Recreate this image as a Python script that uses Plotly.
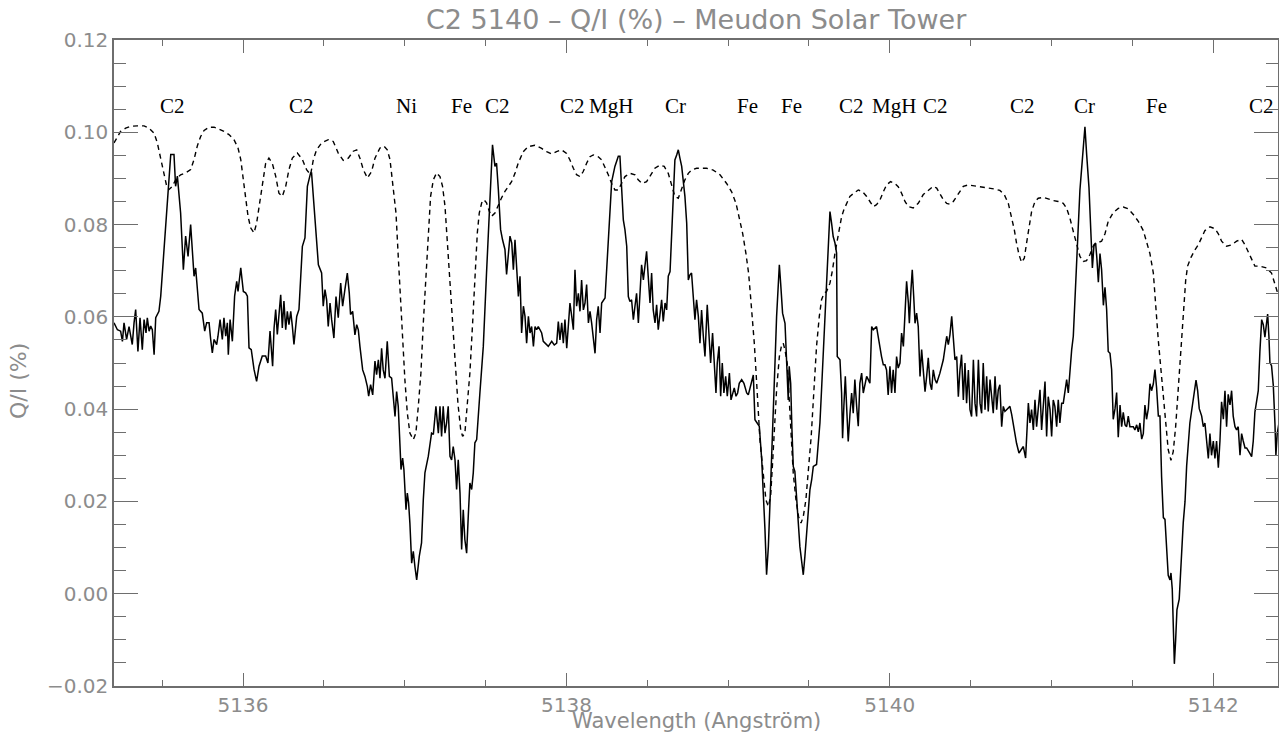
import plotly.graph_objects as go

# ---- solid curve: Q/I (%) ----
solid_wl = [
5135.202,5135.223,5135.243,5135.254,5135.264,5135.280,5135.295,5135.305,5135.315,5135.326,
5135.336,5135.350,5135.363,5135.377,5135.388,5135.400,5135.408,5135.419,5135.429,5135.439,
5135.450,5135.460,5135.480,5135.491,5135.542,5135.553,5135.573,5135.583,5135.594,5135.604,
5135.614,5135.625,5135.631,5135.645,5135.660,5135.676,5135.687,5135.697,5135.707,5135.728,
5135.748,5135.763,5135.775,5135.790,5135.800,5135.810,5135.821,5135.837,5135.845,5135.858,
5135.872,5135.882,5135.893,5135.903,5135.909,5135.920,5135.934,5135.940,5135.948,5135.961,
5135.969,5135.986,5136.002,5136.016,5136.027,5136.037,5136.051,5136.068,5136.084,5136.099,
5136.119,5136.140,5136.154,5136.167,5136.183,5136.192,5136.202,5136.212,5136.222,5136.233,
5136.243,5136.253,5136.264,5136.274,5136.284,5136.295,5136.305,5136.315,5136.332,5136.346,
5136.367,5136.383,5136.398,5136.418,5136.424,
5136.445,5136.466,5136.486,5136.496,5136.507,5136.517,5136.527,5136.538,5136.548,5136.562,
5136.575,5136.589,5136.604,5136.616,5136.630,5136.645,5136.657,5136.665,5136.678,5136.692,
5136.703,5136.713,5136.723,5136.740,5136.754,5136.769,5136.777,5136.789,5136.802,5136.816,
5136.826,5136.837,5136.847,5136.857,5136.867,5136.878,5136.892,5136.905,5136.919,5136.929,
5136.940,5136.950,5136.960,5136.971,5136.977,5136.987,5136.995,5137.008,5137.016,5137.024,
5137.032,5137.043,5137.053,5137.063,5137.074,5137.090,5137.104,5137.115,5137.125,5137.146,
5137.166,5137.177,5137.193,5137.208,5137.218,5137.228,5137.238,5137.249,5137.259,5137.269,
5137.280,5137.290,5137.300,5137.311,5137.321,5137.331,5137.342,5137.352,5137.362,5137.372,
5137.383,5137.393,5137.403,5137.414,5137.424,5137.434,5137.445,5137.465,5137.486,5137.506,
5137.527,5137.543,5137.558,5137.568,5137.579,5137.593,5137.605,5137.620,5137.630,5137.640,
5137.651,
5137.662,5137.672,5137.682,5137.692,5137.703,5137.713,5137.723,5137.734,5137.744,5137.754,
5137.765,5137.775,5137.785,5137.796,5137.806,5137.816,5137.826,5137.837,5137.847,5137.857,
5137.868,5137.888,5137.909,5137.925,5137.940,5137.950,5137.960,5137.971,5137.981,5137.991,
5138.002,5138.012,5138.022,5138.033,5138.043,5138.053,5138.063,5138.074,5138.084,5138.094,
5138.105,5138.115,5138.125,5138.136,5138.146,5138.156,5138.166,5138.177,5138.187,5138.197,
5138.208,5138.218,5138.239,5138.259,5138.280,5138.300,5138.321,5138.331,5138.342,5138.352,
5138.362,5138.373,5138.383,5138.393,5138.403,5138.414,5138.424,5138.434,5138.445,5138.455,
5138.465,5138.476,5138.486,5138.496,5138.506,5138.517,5138.527,5138.537,5138.548,5138.558,
5138.568,5138.579,5138.589,5138.599,5138.610,5138.620,5138.630,5138.641,5138.651,5138.661,
5138.671,5138.682,5138.692,5138.702,5138.713,5138.733,5138.744,5138.754,5138.764,5138.774,
5138.785,5138.795,5138.805,5138.816,5138.826,5138.836,5138.847,5138.857,
5138.871,5138.884,5138.892,5138.904,5138.913,5138.925,5138.933,5138.944,5138.954,5138.964,
5138.974,5138.985,5138.995,5139.008,5139.018,5139.028,5139.038,5139.049,5139.059,5139.069,
5139.084,5139.098,5139.115,5139.125,5139.139,5139.156,5139.166,5139.181,5139.193,5139.208,
5139.218,5139.228,5139.238,5139.249,5139.259,5139.269,5139.280,5139.290,5139.300,5139.311,
5139.317,5139.325,5139.337,5139.352,5139.362,5139.372,5139.378,5139.387,5139.395,5139.403,
5139.413,5139.424,5139.434,5139.444,5139.455,5139.465,5139.475,5139.486,5139.496,5139.506,
5139.517,5139.527,5139.547,5139.558,5139.568,5139.578,5139.589,5139.599,5139.609,5139.620,
5139.630,5139.640,5139.650,5139.661,5139.671,5139.675,5139.692,5139.702,5139.708,5139.716,
5139.725,5139.733,5139.743,5139.754,5139.764,5139.774,5139.784,5139.795,5139.805,5139.815,
5139.826,5139.836,5139.846,5139.857,5139.867,5139.877,5139.888,5139.898,5139.918,5139.929,
5139.949,5139.960,5139.970,5139.980,5139.990,5140.001,5140.011,5140.021,5140.032,5140.042,
5140.052,5140.063,
5140.073,5140.084,5140.094,5140.104,5140.115,5140.121,5140.131,5140.139,5140.148,5140.156,
5140.166,5140.176,5140.187,5140.197,5140.207,5140.218,5140.228,5140.238,5140.249,5140.259,
5140.269,5140.280,5140.290,5140.300,5140.310,5140.331,5140.352,5140.362,5140.372,5140.383,
5140.393,5140.403,5140.414,5140.424,5140.434,5140.444,5140.455,5140.465,5140.475,5140.486,
5140.496,5140.506,5140.517,5140.527,5140.537,5140.548,5140.558,5140.568,5140.578,5140.589,
5140.599,5140.609,5140.620,5140.630,5140.640,5140.651,5140.661,5140.671,5140.681,5140.692,
5140.702,5140.712,5140.723,5140.733,5140.743,5140.754,5140.770,5140.784,5140.799,5140.811,
5140.826,5140.840,5140.846,5140.857,5140.867,5140.877,5140.888,5140.898,5140.908,5140.919,
5140.929,5140.939,5140.949,5140.960,5140.970,5140.980,5140.991,5141.001,5141.011,5141.021,
5141.032,5141.042,5141.052,5141.063,5141.073,5141.083,5141.094,5141.104,5141.114,5141.125,
5141.135,5141.145,5141.156,5141.166,5141.176,5141.186,
5141.207,5141.218,5141.232,5141.244,5141.253,5141.263,5141.273,5141.281,5141.290,5141.300,
5141.310,5141.321,5141.331,5141.341,5141.351,5141.362,5141.372,5141.382,5141.393,5141.403,
5141.413,5141.424,5141.434,5141.444,5141.455,5141.465,5141.475,5141.485,5141.496,5141.506,
5141.516,5141.527,5141.537,5141.547,5141.558,5141.568,5141.578,5141.588,5141.599,5141.609,
5141.619,5141.630,5141.640,5141.650,5141.661,5141.671,5141.681,5141.692,5141.702,5141.712,
5141.722,5141.733,5141.739,5141.747,5141.753,5141.760,5141.768,5141.776,5141.790,5141.805,
5141.815,5141.826,5141.836,5141.856,5141.877,5141.894,5141.904,5141.914,5141.929,5141.939,
5141.949,5141.960,5141.970,5141.980,5141.990,5142.001,5142.011,5142.021,5142.032,5142.042,
5142.052,5142.063,5142.073,5142.083,5142.093,5142.104,5142.114,5142.124,5142.135,5142.145,
5142.155,5142.166,5142.176,5142.186,5142.197,5142.207,5142.217,5142.227,5142.238,5142.248,
5142.258,5142.269,5142.279,5142.289,5142.300,5142.310,5142.320,5142.330,5142.337,5142.345,
5142.351,5142.361,5142.372,5142.382,5142.388,5142.396,5142.407,
]
solid_qi = [
0.0587,0.0572,0.0569,0.0547,0.0587,0.0551,0.0579,0.0558,0.0540,0.0587,
0.0616,0.0525,0.0598,0.0529,0.0594,0.0565,0.0598,0.0569,0.0580,0.0572,
0.0518,0.0598,0.0612,0.0645,0.0915,0.0952,0.0952,0.0883,0.0905,0.0868,
0.0825,0.0746,0.0702,0.0775,0.0731,0.0800,0.0738,0.0688,0.0706,0.0616,
0.0608,0.0569,0.0587,0.0587,0.0551,0.0522,0.0551,0.0540,0.0558,0.0594,
0.0551,0.0598,0.0558,0.0587,0.0518,0.0594,0.0547,0.0580,0.0645,0.0677,
0.0655,0.0706,0.0655,0.0652,0.0645,0.0533,0.0529,0.0486,0.0460,0.0493,
0.0515,0.0515,0.0500,0.0569,0.0493,0.0576,0.0616,0.0562,0.0601,0.0648,
0.0576,0.0634,0.0572,0.0612,0.0583,0.0612,0.0580,0.0540,0.0601,0.0616,
0.0753,0.0771,0.0883,0.0912,0.0912,
0.0803,0.0713,0.0695,0.0623,0.0659,0.0637,0.0579,0.0630,0.0594,0.0554,
0.0644,0.0598,0.0673,0.0623,0.0659,0.0695,0.0652,0.0605,0.0612,0.0561,
0.0583,0.0572,0.0536,0.0485,0.0471,0.0449,0.0428,0.0453,0.0431,0.0504,
0.0475,0.0507,0.0467,0.0532,0.0485,0.0467,0.0547,0.0471,0.0467,0.0431,
0.0384,0.0438,0.0406,0.0319,0.0269,0.0294,0.0269,0.0182,0.0218,0.0197,
0.0153,0.0066,0.0092,0.0059,0.0030,0.0081,0.0110,0.0204,0.0262,0.0298,
0.0348,0.0345,0.0406,0.0348,0.0406,0.0341,0.0406,0.0348,0.0370,0.0406,
0.0298,0.0290,0.0319,0.0290,0.0226,0.0290,0.0218,0.0096,0.0182,0.0117,
0.0088,0.0168,0.0240,0.0226,0.0262,0.0327,0.0334,0.0435,0.0536,0.0695,
0.0840,0.0973,0.0926,0.0933,0.0876,0.0789,0.0767,0.0746,0.0692,0.0731,
0.0775,
0.0760,0.0702,0.0767,0.0702,0.0644,0.0688,0.0565,0.0623,0.0601,0.0543,
0.0601,0.0565,0.0579,0.0536,0.0579,0.0572,0.0579,0.0572,0.0565,0.0547,
0.0543,0.0536,0.0547,0.0539,0.0543,0.0590,0.0550,0.0587,0.0543,0.0594,
0.0532,0.0572,0.0630,0.0601,0.0572,0.0702,0.0623,0.0651,0.0612,0.0680,
0.0615,0.0630,0.0670,0.0587,0.0612,0.0587,0.0547,0.0521,0.0594,0.0623,
0.0565,0.0630,0.0641,0.0767,0.0893,0.0926,0.0948,0.0948,0.0868,0.0810,
0.0789,0.0753,0.0644,0.0633,0.0637,0.0594,0.0623,0.0651,0.0587,0.0644,
0.0713,0.0680,0.0709,0.0742,0.0688,0.0630,0.0695,0.0615,0.0587,0.0626,
0.0572,0.0608,0.0637,0.0590,0.0630,0.0615,0.0688,0.0698,0.0774,0.0882,
0.0940,0.0951,0.0962,0.0944,0.0926,0.0861,0.0803,0.0680,0.0691,0.0695,
0.0637,0.0594,0.0637,0.0601,0.0543,0.0615,0.0557,0.0514,
0.0626,0.0543,0.0500,0.0565,0.0500,0.0435,0.0500,0.0536,0.0428,0.0500,
0.0435,0.0471,0.0428,0.0478,0.0420,0.0435,0.0446,0.0428,0.0435,0.0456,
0.0464,0.0456,0.0435,0.0431,0.0449,0.0474,0.0377,0.0370,0.0363,0.0290,
0.0225,0.0139,0.0041,0.0102,0.0196,0.0283,0.0391,0.0500,0.0601,0.0688,
0.0713,0.0673,0.0608,0.0586,0.0500,0.0420,0.0493,0.0456,0.0355,0.0276,
0.0265,0.0211,0.0146,0.0102,0.0070,0.0041,0.0081,0.0139,0.0189,0.0225,
0.0247,0.0276,0.0280,0.0319,0.0370,0.0442,0.0529,0.0601,0.0688,0.0782,
0.0828,0.0803,0.0774,0.0760,0.0738,0.0514,0.0507,0.0435,0.0337,0.0406,
0.0471,0.0406,0.0330,0.0391,0.0435,0.0391,0.0464,0.0406,0.0363,0.0456,
0.0478,0.0435,0.0449,0.0471,0.0464,0.0456,0.0579,0.0572,0.0579,0.0554,
0.0514,0.0496,0.0496,0.0485,0.0431,0.0493,0.0435,0.0485,0.0435,0.0514,
0.0489,0.0500,
0.0565,0.0536,0.0608,0.0677,0.0630,0.0586,0.0659,0.0702,0.0644,0.0586,
0.0608,0.0579,0.0471,0.0529,0.0485,0.0438,0.0471,0.0511,0.0456,0.0442,
0.0485,0.0464,0.0456,0.0467,0.0478,0.0507,0.0558,0.0540,0.0561,0.0601,
0.0558,0.0507,0.0514,0.0427,0.0485,0.0518,0.0420,0.0500,0.0413,0.0485,
0.0399,0.0384,0.0507,0.0413,0.0384,0.0507,0.0413,0.0391,0.0500,0.0399,
0.0471,0.0395,0.0464,0.0420,0.0391,0.0471,0.0399,0.0442,0.0453,0.0362,
0.0406,0.0395,0.0399,0.0402,0.0406,0.0388,0.0355,0.0326,0.0305,0.0312,
0.0319,0.0294,0.0341,0.0413,0.0370,0.0399,0.0355,0.0420,0.0362,0.0413,
0.0442,0.0355,0.0413,0.0460,0.0341,0.0427,0.0399,0.0341,0.0420,0.0406,
0.0362,0.0420,0.0370,0.0413,0.0413,0.0442,0.0464,0.0435,0.0485,0.0529,
0.0558,0.0630,0.0731,0.0810,0.0875,0.0919,
0.1012,0.0950,0.0880,0.0780,0.0706,0.0756,0.0760,0.0726,0.0675,0.0737,
0.0702,0.0625,0.0664,0.0617,0.0525,0.0521,0.0486,0.0378,0.0401,0.0436,
0.0339,0.0409,0.0362,0.0393,0.0366,0.0362,0.0385,0.0362,0.0362,0.0362,
0.0355,0.0366,0.0351,0.0370,0.0335,0.0347,0.0409,0.0378,0.0401,0.0455,
0.0440,0.0455,0.0486,0.0447,0.0385,0.0385,0.0254,0.0165,0.0161,0.0110,
0.0040,0.0030,0.0045,0.0010,-0.0080,-0.0152,-0.0100,-0.0035,-0.0012,0.0099,
0.0154,0.0200,0.0277,0.0370,0.0416,0.0463,0.0440,0.0401,0.0385,0.0362,
0.0370,0.0331,0.0293,0.0347,0.0300,0.0331,0.0293,0.0331,0.0273,0.0331,
0.0416,0.0378,0.0440,0.0362,0.0432,0.0409,0.0440,0.0385,0.0362,0.0355,
0.0362,0.0300,0.0347,0.0331,0.0316,0.0316,0.0308,0.0304,0.0297,0.0331,
0.0393,0.0416,0.0440,0.0525,0.0594,0.0583,0.0556,0.0586,0.0606,0.0556,
0.0501,0.0494,0.0451,0.0370,0.0300,0.0347,0.0370,
]

# ---- dashed curve: scaled intensity profile ----
dashed_wl = [
5135.202,5135.223,5135.243,5135.274,5135.305,5135.346,5135.388,5135.419,5135.450,5135.470,
5135.491,5135.511,5135.528,5135.542,5135.563,5135.583,5135.614,5135.645,5135.676,5135.697,
5135.717,5135.738,5135.759,5135.790,5135.821,5135.851,5135.882,5135.913,5135.944,5135.969,
5135.986,5136.002,5136.016,5136.031,5136.047,5136.068,5136.084,5136.099,5136.119,5136.140,
5136.160,5136.181,5136.202,5136.222,5136.243,5136.264,5136.284,5136.305,5136.336,5136.367,
5136.393,5136.418,
5136.435,5136.455,5136.486,5136.527,5136.558,5136.589,5136.620,5136.651,5136.682,5136.703,
5136.723,5136.744,5136.769,5136.795,5136.816,5136.847,5136.872,5136.892,5136.909,5136.929,
5136.946,5136.960,5136.975,5136.987,5137.001,5137.016,5137.032,5137.053,5137.069,5137.084,
5137.100,5137.115,5137.131,5137.146,5137.160,5137.177,5137.197,5137.218,5137.234,5137.249,
5137.263,5137.280,5137.296,5137.313,5137.329,5137.346,5137.358,5137.372,5137.387,5137.403,
5137.420,5137.434,5137.449,5137.461,5137.476,5137.490,5137.506,5137.523,5137.537,5137.558,
5137.579,5137.599,5137.620,5137.640,
5137.661,5137.682,5137.702,5137.733,5137.764,5137.805,5137.847,5137.878,5137.909,5137.939,
5137.970,5138.001,5138.022,5138.043,5138.063,5138.084,5138.104,5138.125,5138.146,5138.166,
5138.197,5138.218,5138.238,5138.259,5138.280,5138.300,5138.321,5138.341,5138.362,5138.393,
5138.424,5138.444,5138.469,5138.496,5138.517,5138.547,5138.578,5138.605,5138.630,5138.651,
5138.671,5138.692,5138.712,5138.733,5138.754,5138.774,5138.805,5138.836,
5138.867,5138.908,5138.950,5138.991,5139.022,5139.049,5139.069,5139.090,5139.110,5139.127,
5139.139,5139.152,5139.162,5139.172,5139.181,5139.189,5139.197,5139.209,5139.222,5139.234,
5139.249,5139.263,5139.275,5139.288,5139.300,5139.317,5139.331,5139.341,5139.352,5139.366,
5139.378,5139.391,5139.403,5139.420,5139.436,5139.451,5139.465,5139.481,5139.498,5139.514,
5139.531,5139.547,5139.564,5139.578,5139.593,5139.609,5139.630,5139.646,5139.661,5139.675,
5139.688,5139.702,5139.716,5139.733,5139.753,5139.778,5139.805,5139.832,5139.857,5139.877,
5139.898,5139.918,5139.939,5139.960,5139.980,5140.005,5140.032,5140.052,
5140.073,5140.094,5140.114,5140.145,5140.176,5140.207,5140.238,5140.269,5140.290,5140.310,
5140.331,5140.352,5140.372,5140.393,5140.424,5140.455,5140.485,5140.527,5140.568,5140.609,
5140.650,5140.681,5140.708,5140.733,5140.753,5140.770,5140.784,5140.799,5140.815,5140.832,
5140.846,5140.861,5140.877,5140.898,5140.918,5140.949,5140.980,5141.011,5141.042,5141.073,
5141.093,5141.114,5141.135,5141.155,5141.176,5141.197,5141.217,5141.238,5141.258,
5141.279,5141.310,5141.331,5141.351,5141.382,5141.413,5141.444,5141.475,5141.506,5141.537,
5141.568,5141.588,5141.609,5141.630,5141.644,5141.661,5141.677,5141.692,5141.706,5141.722,
5141.739,5141.753,5141.768,5141.784,5141.801,5141.815,5141.830,5141.842,5141.863,5141.887,
5141.908,5141.929,5141.949,5141.980,5142.011,5142.032,5142.052,5142.083,5142.114,5142.145,
5142.176,5142.197,5142.217,5142.238,5142.258,5142.289,5142.330,5142.361,5142.382,5142.402,
]
dashed_qi = [
0.0977,0.0991,0.1002,0.1009,0.1013,0.1014,0.1014,0.1009,0.0998,0.0977,
0.0941,0.0905,0.0883,0.0876,0.0883,0.0897,0.0908,0.0912,0.0919,0.0941,
0.0970,0.0991,0.1004,0.1011,0.1011,0.1007,0.1002,0.0995,0.0984,0.0966,
0.0941,0.0897,0.0854,0.0818,0.0793,0.0782,0.0803,0.0840,0.0890,0.0933,
0.0944,0.0933,0.0905,0.0868,0.0861,0.0883,0.0919,0.0944,0.0955,0.0941,
0.0919,0.0908,
0.0941,0.0962,0.0977,0.0984,0.0980,0.0955,0.0939,0.0944,0.0959,0.0962,
0.0944,0.0919,0.0901,0.0915,0.0944,0.0966,0.0970,0.0962,0.0941,0.0883,
0.0825,0.0731,0.0623,0.0536,0.0464,0.0392,0.0348,0.0334,0.0348,0.0406,
0.0478,0.0587,0.0695,0.0782,0.0861,0.0897,0.0912,0.0904,0.0883,0.0840,
0.0767,0.0681,0.0587,0.0493,0.0413,0.0356,0.0341,0.0348,0.0406,0.0478,
0.0587,0.0695,0.0782,0.0825,0.0847,0.0854,0.0847,0.0829,0.0818,0.0825,
0.0843,0.0858,0.0872,0.0883,
0.0893,0.0911,0.0933,0.0958,0.0969,0.0972,0.0965,0.0958,0.0953,0.0958,
0.0962,0.0954,0.0940,0.0922,0.0908,0.0904,0.0915,0.0933,0.0947,0.0951,
0.0947,0.0940,0.0926,0.0908,0.0889,0.0875,0.0875,0.0889,0.0904,0.0911,
0.0908,0.0897,0.0889,0.0893,0.0904,0.0922,0.0929,0.0926,0.0911,0.0882,
0.0861,0.0857,0.0875,0.0897,0.0911,0.0918,0.0922,0.0922,
0.0922,0.0918,0.0908,0.0889,0.0871,0.0846,0.0817,0.0781,0.0738,0.0694,
0.0644,0.0593,0.0543,0.0485,0.0427,0.0377,0.0333,0.0290,0.0239,0.0203,
0.0189,0.0211,0.0283,0.0369,0.0442,0.0514,0.0539,0.0543,0.0528,0.0499,
0.0427,0.0341,0.0261,0.0203,0.0167,0.0153,0.0167,0.0203,0.0268,0.0341,
0.0442,0.0536,0.0601,0.0637,0.0651,0.0655,0.0673,0.0702,0.0738,0.0767,
0.0796,0.0817,0.0832,0.0846,0.0861,0.0868,0.0875,0.0871,0.0861,0.0850,
0.0839,0.0843,0.0853,0.0871,0.0886,0.0893,0.0889,0.0882,
0.0868,0.0850,0.0839,0.0836,0.0846,0.0865,0.0875,0.0883,0.0879,0.0868,
0.0854,0.0846,0.0844,0.0850,0.0868,0.0883,0.0886,0.0884,0.0881,0.0879,
0.0877,0.0874,0.0865,0.0846,0.0818,0.0789,0.0760,0.0735,0.0718,0.0727,
0.0760,0.0796,0.0828,0.0850,0.0857,0.0859,0.0855,0.0852,0.0850,0.0846,
0.0836,0.0814,0.0785,0.0756,0.0731,0.0720,0.0722,0.0735,0.0753,
0.0760,0.0764,0.0780,0.0807,0.0826,0.0835,0.0838,0.0834,0.0822,0.0807,
0.0787,0.0764,0.0737,0.0695,0.0625,0.0548,0.0486,0.0424,0.0362,0.0312,
0.0289,0.0308,0.0362,0.0440,0.0532,0.0610,0.0679,0.0710,0.0729,0.0745,
0.0756,0.0772,0.0787,0.0795,0.0791,0.0780,0.0764,0.0753,0.0756,0.0764,
0.0768,0.0756,0.0741,0.0722,0.0710,0.0710,0.0706,0.0695,0.0671,0.0648,
]

# ---- line identifications ----
line_labels = ["C2", "C2", "Ni", "Fe", "C2", "C2", "MgH", "Cr", "Fe", "Fe",
               "C2", "MgH", "C2", "C2", "Cr", "Fe", "C2"]
line_label_wl = [5135.561, 5136.359, 5137.014, 5137.354, 5137.571, 5138.035,
                 5138.276, 5138.672, 5139.117, 5139.395, 5139.766, 5140.026,
                 5140.280, 5140.818, 5141.207, 5141.652, 5142.302]
label_level = 0.1057

x_range = [5135.202, 5142.401]
y_range = [-0.02, 0.12]

TXT = "#8c8c8c"
AX = "#6e6e6e"
FONT = "DejaVu Sans"

fig = go.Figure()
fig.add_trace(go.Scatter(x=dashed_wl, y=dashed_qi, mode="lines",
                         line=dict(color="black", width=1.4, dash="5px,4px"),
                         showlegend=False, hoverinfo="skip"))
fig.add_trace(go.Scatter(x=solid_wl, y=solid_qi, mode="lines",
                         line=dict(color="black", width=1.5),
                         showlegend=False, hoverinfo="skip"))

annotations = []
for lab, wl in zip(line_labels, line_label_wl):
    annotations.append(dict(x=wl, y=label_level, xref="x", yref="y", text=lab,
                            showarrow=False, xanchor="center", yanchor="middle",
                            font=dict(family="Liberation Serif", size=21, color="black")))

annotations.append(dict(x=0.5, y=1, xref="paper", yref="paper", yshift=21,
                        text="C2 5140 \u2013 Q/I (%) \u2013 Meudon Solar Tower",
                        showarrow=False, xanchor="center", yanchor="middle",
                        font=dict(family=FONT, size=27, color=TXT)))
annotations.append(dict(x=0.5, y=0, xref="paper", yref="paper", yshift=-35,
                        text="Wavelength (Angstr\u00f6m)",
                        showarrow=False, xanchor="center", yanchor="middle",
                        font=dict(family=FONT, size=21, color=TXT)))
annotations.append(dict(x=0, y=0.5, xref="paper", yref="paper", xshift=-96, yshift=-18,
                        text="Q/I (%)", textangle=-90,
                        showarrow=False, xanchor="center", yanchor="middle",
                        font=dict(family=FONT, size=22, color=TXT)))

fig.update_layout(
    width=1279, height=740,
    margin=dict(l=114, r=1, t=40, b=54),
    paper_bgcolor="white", plot_bgcolor="white",
    annotations=annotations,
    xaxis=dict(range=x_range, tick0=5136, dtick=2, ticks="inside", ticklen=13,
               tickwidth=1, tickcolor=AX, showline=True, linecolor=AX, linewidth=1.5,
               mirror="allticks", showgrid=False, zeroline=False, automargin=False,
               tickfont=dict(family=FONT, size=20, color=TXT),
               minor=dict(tick0=5136, dtick=0.5, ticks="inside", ticklen=6,
                          tickwidth=1, tickcolor=AX, showgrid=False)),
    yaxis=dict(range=y_range, tick0=0, dtick=0.02, tickformat=".2f", ticks="inside",
               ticklen=24, tickwidth=1, tickcolor=AX, showline=True, linecolor=AX,
               linewidth=1.5, mirror="allticks", showgrid=False, zeroline=False,
               automargin=False,
               tickfont=dict(family=FONT, size=20, color=TXT),
               minor=dict(tick0=0, dtick=0.005, ticks="inside", ticklen=12,
                          tickwidth=1, tickcolor=AX, showgrid=False)),
)

# remove the browser's default 8px page margin so the 1279x740 figure fills the window
fig.write_html("out.html",
               config={"displayModeBar": False},
               post_script="document.body.style.margin='0';document.body.style.overflow='hidden';")
